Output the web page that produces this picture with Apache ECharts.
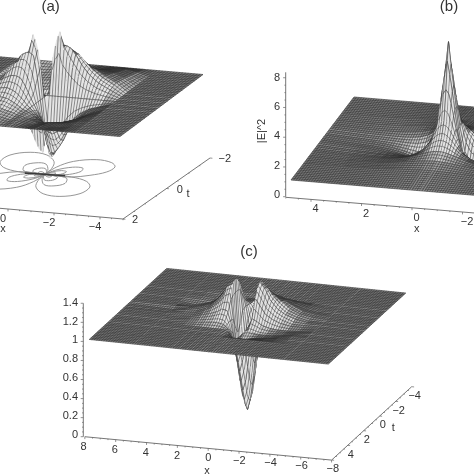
<!DOCTYPE html>
<html><head><meta charset="utf-8"><style>html,body{margin:0;padding:0;background:#fff}#c{width:474px;height:474px}</style>
<script src="https://cdn.jsdelivr.net/npm/echarts@6/dist/echarts.min.js"></script></head>
<body><div id="c"></div>
<script>
// ---------- panel (a) values
const xA=[5,3,2.5,2,1.6,1.3,1,.8,.6,.45,.3,.15,0,-.15,-.3,-.45,-.6,-.8,-1,-1.3,-1.6,-2,-2.5,-3,-5];
const tA=[-2,-1.6,-1.3,-1,-.8,-.6,-.45,-.3,-.15,0,.15,.3,.45,.6,.8,1,1.3,1.6,2];
const flatA=[1,1,1,1,1,1,1,1,1,1,1,1,1,1,1,1,1,1,1,1,1,1,1,1,1];
const zA=[flatA,
[1,1,.96,.94,.94,.95,.96,.96,.97,.98,.99,1,1,1,1.01,1.02,1.03,1.04,1.04,1.05,1.06,1.06,1.04,1,1],
[1,1,.94,.91,.90,.91,.92,.93,.95,.96,.97,.99,1,1.01,1.03,1.04,1.05,1.07,1.08,1.09,1.10,1.09,1.06,1,1],
[1,1,.92,.87,.85,.85,.86,.87,.90,.92,.95,.98,1,1.02,1.05,1.08,1.10,1.13,1.14,1.15,1.15,1.13,1.08,1,1],
[1,1,.91,.85,.81,.79,.78,.80,.83,.87,.91,.96,1,1.04,1.09,1.13,1.17,1.20,1.22,1.21,1.19,1.15,1.09,1,1],
[1,1,.90,.83,.76,.71,.67,.67,.69,.75,.83,.92,1,1.08,1.17,1.25,1.31,1.33,1.33,1.29,1.24,1.17,1.10,1,1],
[1,1,.91,.83,.74,.65,.56,.53,.54,.60,.70,.84,1,1.16,1.30,1.40,1.46,1.47,1.44,1.35,1.26,1.17,1.09,1,1],
[1,1,.93,.86,.77,.67,.54,.45,.38,.38,.47,.69,1,1.31,1.53,1.56,1.56,1.53,1.46,1.33,1.23,1.14,1.07,1,1],
[1,1,.96,.92,.86,.79,.67,.54,.40,.32,.28,.52,1,1.44,1.64,1.75,1.55,1.43,1.33,1.21,1.14,1.08,1.04,1,1],
flatA,
[1,1,1.04,1.08,1.14,1.21,1.33,1.43,1.55,1.75,1.64,1.44,1,.52,.28,.32,.40,.54,.67,.79,.86,.92,.96,1,1],
[1,1,1.07,1.14,1.23,1.33,1.46,1.53,1.56,1.56,1.53,1.31,1,.69,.47,.38,.38,.45,.54,.72,.82,.90,.96,1,1],
[1,1,1.09,1.17,1.26,1.35,1.44,1.47,1.46,1.40,1.30,1.16,1,.84,.70,.60,.54,.53,.58,.72,.80,.88,.95,1,1],
[1,1,1.10,1.17,1.24,1.29,1.33,1.33,1.31,1.25,1.17,1.08,1,.92,.83,.75,.69,.67,.70,.77,.83,.89,.95,1,1],
[1,1,1.09,1.15,1.19,1.21,1.22,1.20,1.17,1.13,1.09,1.04,1,.96,.91,.87,.83,.80,.82,.85,.87,.91,.96,1,1],
[1,1,1.08,1.13,1.15,1.15,1.14,1.13,1.10,1.08,1.05,1.02,1,.98,.95,.92,.90,.87,.88,.89,.90,.93,.97,1,1],
[1,1,1.06,1.09,1.10,1.09,1.08,1.07,1.05,1.04,1.03,1.01,1,.99,.97,.96,.95,.93,.93,.94,.94,.95,.98,1,1],
[1,1,1.04,1.06,1.06,1.05,1.04,1.04,1.03,1.02,1.01,1,1,1,.99,.98,.97,.96,.96,.97,.96,.96,.98,1,1],
flatA];
// floor contours of (a), as [x,t] loops
const contoursA=[
[[0,0],[-.07,-.48],[-.43,-.89],[-1.25,-1.11],[-1.99,-1.01],[-2.34,-.78],[-2.28,-.45],[-1.8,-.17],[-1.18,.02],[-.54,.04],[0,0]],
[[0,0],[-.05,.38],[-.31,.78],[-.94,1.13],[-1.73,1.2],[-2.37,.94],[-2.41,.51],[-1.99,.2],[-1.18,.02],[-.44,.01],[0,0]],
[[0,0],[.05,-.38],[.31,-.78],[.94,-1.13],[1.73,-1.2],[2.37,-.94],[2.41,-.51],[1.99,-.2],[1.18,-.02],[.44,-.01],[0,0]],
[[0,0],[.07,.48],[.43,.89],[1.25,1.11],[1.99,1.01],[2.34,.78],[2.28,.45],[1.8,.17],[1.18,-.02],[.54,-.04],[0,0]],
[[0,0],[-.2,-.3],[-.7,-.55],[-1.15,-.55],[-1.25,-.35],[-.95,-.12],[-.45,0],[0,0]],
[[0,0],[-.1,.25],[-.5,.6],[-.95,.62],[-1.25,.42],[-1.05,.12],[-.5,.02],[0,0]],
[[0,0],[.1,-.25],[.5,-.6],[.95,-.62],[1.25,-.42],[1.05,-.12],[.5,-.02],[0,0]],
[[0,0],[.2,.3],[.7,.55],[1.15,.55],[1.25,.35],[.95,.12],[.45,0],[0,0]],
[[0,0],[-.15,-.18],[-.45,-.3],[-.7,-.26],[-.6,-.08],[-.25,0],[0,0]],
[[0,0],[-.08,.16],[-.3,.34],[-.6,.3],[-.65,.12],[-.3,.01],[0,0]],
[[0,0],[.08,-.16],[.3,-.34],[.6,-.3],[.65,-.12],[.3,-.01],[0,0]],
[[0,0],[.15,.18],[.45,.3],[.7,.26],[.6,.08],[.25,0],[0,0]],
[[0,0],[-.15,-.1],[-.35,-.13],[-.35,-.04],[-.15,0],[0,0]],
[[0,0],[-.1,.08],[-.3,.14],[-.35,.05],[-.15,0],[0,0]],
[[0,0],[.1,-.08],[.3,-.14],[.35,-.05],[.15,0],[0,0]],
[[0,0],[.15,.1],[.35,.13],[.35,.04],[.15,0],[0,0]]];
// dark streak through the centre of the contour map
const streakA=[[.85,.03],[.4,.01],[0,0],[-.4,-.01],[-.85,-.03]];
const xTicksA=[0,-2,-4], tTicksA=[2,0,-2];

// ---------- panel (b) values
const xB=[5,3.5,3,2.6,2.3,2,1.7,1.4,1.1,.8,.6,.4,.25,.12,0,-.12,-.25,-.4,-.6,-.8,-1.1,-1.4,-1.7,-2,-2.3,-2.6,-3,-3.5,-5];
const tB=[-5,-3,-2.2,-1.6,-1.1,-.7,-.4,-.2,0,.2,.4,.7,1.1,1.6,2.2,3,5];
const flatB=[1,1,1,1,1,1,1,1,1,1,1,1,1,1,1,1,1,1,1,1,1,1,1,1,1,1,1,1,1];
const rowB0=[1,.83,.78,.72,.65,.56,.43,.27,.07,.03,.51,2.4,4.6,6.4,8.2,6.4,4.6,2.4,.51,.03,.07,.27,.43,.56,.65,.72,.78,.83,1];
const rowB1=[1,.84,.79,.73,.66,.57,.46,.31,.165,.22,.78,2.45,4.4,5.9,7.0,5.9,4.4,2.45,.78,.22,.165,.31,.46,.57,.66,.73,.79,.84,1];
const rowB2=[1,.85,.8,.74,.68,.61,.53,.43,.39,.64,1.28,2.6,3.9,4.9,5.2,4.9,3.9,2.6,1.28,.64,.39,.43,.53,.61,.68,.74,.8,.85,1];
const rowB3=[1,.85,.815,.77,.74,.7,.67,.67,.78,1.17,1.71,2.4,2.9,3.2,3.3,3.2,2.9,2.4,1.71,1.17,.78,.67,.67,.7,.74,.77,.815,.85,1];
const rowB4=[1,.88,.86,.84,.83,.83,.86,.93,1.1,1.41,1.7,2.02,2.22,2.33,2.37,2.33,2.22,2.02,1.7,1.41,1.1,.93,.86,.83,.83,.84,.86,.88,1];
const rowB5=[1,.92,.91,.92,.93,.96,1.01,1.09,1.22,1.39,1.5,1.61,1.67,1.71,1.71,1.71,1.67,1.61,1.5,1.39,1.22,1.09,1.01,.96,.93,.92,.91,.92,1];
const rowB6=[1,.95,.965,.98,1,1.04,1.08,1.14,1.21,1.28,1.33,1.36,1.38,1.4,1.4,1.4,1.38,1.36,1.33,1.28,1.21,1.14,1.08,1.04,1,.98,.965,.95,1];
const rowB7=[1,.995,1.006,1.025,1.04,1.07,1.09,1.12,1.15,1.18,1.19,1.21,1.21,1.22,1.22,1.22,1.21,1.21,1.19,1.18,1.15,1.12,1.09,1.07,1.04,1.025,1.006,.995,1];
const zB=[flatB,rowB7,rowB6,rowB5,rowB4,rowB3,rowB2,rowB1,rowB0,rowB1,rowB2,rowB3,rowB4,rowB5,rowB6,rowB7,flatB];
const xTicksB=[4,2,0,-2], zTicksB=[0,2,4,6,8];

// ---------- panel (c) values
const xC=[8,5,4,3.2,2.5,2,1.5,1.2,.85,.6,.4,.2,0,-.2,-.4,-.6,-.85,-1.2,-1.5,-2,-2.5,-3.2,-4,-5,-8];
const tC=[-5,-4,-3,-2.5,-2,-1.5,-1,-.6,-.3,0,.3,.6,1,1.5,2,2.5,3,4,5];
const flatC=[1,1,1,1,1,1,1,1,1,1,1,1,1,1,1,1,1,1,1,1,1,1,1,1,1];
const zC=[flatC,flatC,flatC,
[1,1,1,.995,.99,.99,.99,.99,.99,.995,.99,.985,.98,.985,.99,.995,.995,1,1,1,1,1,1,1,1],
[1,1,1,.99,.985,.985,.99,1,1,1,.99,.96,.92,.96,.99,1.01,1.03,1.05,1.05,1.05,1.03,1.01,1,1,1],
[1,1,.995,.985,.985,1,1.02,1.03,1.04,1,.95,.87,.77,.87,.95,1,1.08,1.12,1.12,1.09,1.05,1.02,1,1,1],
[1,1,.98,.98,1.02,1.06,1.11,1.15,1.15,1,.82,.62,.5,.62,.82,1,1.18,1.18,1.16,1.12,1.08,1.03,1.01,1,1],
[1,1,.99,1.03,1.07,1.12,1.2,1.26,1.29,.95,.62,.38,.27,.38,.62,.95,1.29,1.25,1.2,1.14,1.08,1.03,1.01,1,1],
[1,1,1.02,1.05,1.09,1.14,1.24,1.32,1.35,.8,.45,.2,.1,.2,.45,.8,1.35,1.29,1.22,1.13,1.07,1.03,1,1,1],
[1,.99,1.02,1.05,1.09,1.15,1.25,1.33,1.37,.72,.38,.14,.02,.14,.38,.72,1.37,1.3,1.2,1.11,1.06,1.02,1,1,1],
[1,.995,1.02,1.04,1.08,1.14,1.23,1.31,1.34,.8,.45,.2,.1,.2,.45,.8,1.33,1.24,1.15,1.08,1.04,1,1,1,1],
[1,1,1.01,1.03,1.07,1.11,1.18,1.24,1.27,.95,.62,.38,.27,.38,.62,.95,1.24,1.16,1.09,1.04,1.01,.99,.99,1,1],
[1,1,1,1.02,1.05,1.07,1.1,1.13,1.12,1,.82,.62,.5,.62,.82,.98,1.06,1.03,1,.98,.97,.97,.98,1,1],
[1,1,1,1.01,1.02,1.03,1.04,1.04,1.03,1,.95,.87,.77,.87,.93,.96,.97,.96,.95,.95,.96,.97,.99,1,1],
[1,1,1,1,1,1,1,1,1,1,.99,.96,.92,.92,.92,.92,.92,.93,.94,.95,.96,.98,1,1,1],
[1,1,1,1,1,1,1,1,1,1,1,.99,.98,.95,.95,.95,.95,.95,.96,.97,.98,.99,1,1,1],
[1,1,1,1,1,1,1,1,1,1,1,1,1,1,1,1,1,1,1,1,1,1,1,1,1],
flatC,flatC];
const xTicksC=[8,6,4,2,0,-2,-4,-6,-8], tTicksC=[4,2,0,-2,-4], zTicksC=[0,.2,.4,.6,.8,1,1.2,1.4];

// ---------- layout of the three views (screen vectors per data unit)
const viewA={cx:46.5,cy:95.5,ux:[-23,-2],ut:[-20.75,15.5],uz:-83,hx:.125,ht:.1};
const viewB={cx:448.5,cy:149,ux:[-25.2,-2.1],ut:[-6.3,8.3],uz:-14.9,hx:.1,ht:.2};
const viewC={cx:247.5,cy:316.25,ux:[-14.94,-1.54],ut:[-7.74,7.1],uz:-95,hx:.16,ht:.2};
const MESH='#2a2a2a', INK='#333', AXIS='#666';
const FONT='"Liberation Sans",Arial,sans-serif';

function shade(pts,flatArea){
  let s=0;for(let i=0;i<4;i++){const a=pts[i],b=pts[(i+1)%4];s+=a[0]*b[1]-b[0]*a[1];}
  const r=Math.abs(s/2)/flatArea;
  const g=Math.round(r<1?Math.max(70,128-(1-r)*90):Math.min(228,128+(r-1)*75));
  return 'rgb('+g+','+g+','+g+')';
}
function surfaceItems(v,xs,ts,Z){
  const items=[];
  const unit=Math.abs(v.ux[0]*v.ut[1]-v.ux[1]*v.ut[0]);
  const P=(api,x,t,z)=>api.coord([v.cx+x*v.ux[0]+t*v.ut[0], v.cy+x*v.ux[1]+t*v.ut[1]+(z-1)*v.uz]);
  for(let i=0;i<ts.length-1;i++)for(let j=0;j<xs.length-1;j++){
    items.push(api=>{
      const x0=xs[j],x1=xs[j+1],t0=ts[i],t1=ts[i+1];
      const a=Z[i][j],b=Z[i][j+1],c=Z[i+1][j+1],d=Z[i+1][j];
      const pts=[P(api,x0,t0,a),P(api,x1,t0,b),P(api,x1,t1,c),P(api,x0,t1,d)];
      const f=shade(pts,unit*(x0-x1)*(t1-t0));
      const ch=[{type:'polygon',silent:true,shape:{points:pts},style:{fill:f,stroke:f,lineWidth:.3}}];
      const line=(p,q)=>ch.push({type:'line',silent:true,shape:{x1:p[0],y1:p[1],x2:q[0],y2:q[1]},style:{stroke:MESH,lineWidth:.5}});
      for(let k=Math.ceil(x1/v.hx-1e-6);k*v.hx<=x0+1e-6;k++){
        const X=k*v.hx,g=(X-x0)/(x1-x0);
        line(P(api,X,t0,a+(b-a)*g),P(api,X,t1,d+(c-d)*g));
      }
      for(let k=Math.ceil(t0/v.ht-1e-6);k*v.ht<=t1+1e-6;k++){
        const T=k*v.ht,g=(T-t0)/(t1-t0);
        line(P(api,x0,T,a+(d-a)*g),P(api,x1,T,b+(c-b)*g));
      }
      return {type:'group',children:ch};
    });
  }
  return items;
}
function seg(p,q,w){return api=>{const a=api.coord(p),b=api.coord(q);
  return {type:'line',silent:true,shape:{x1:a[0],y1:a[1],x2:b[0],y2:b[1]},style:{stroke:AXIS,lineWidth:w||.9}};};}
function label(s,p,size,rot,align){return api=>{const a=api.coord(p);
  return {type:'text',silent:true,x:a[0],y:a[1],rotation:rot||0,style:{text:s,fill:INK,font:size+'px '+FONT,align:align||'center',verticalAlign:'middle'}};};}
function asSeries(items,z){return {type:'custom',coordinateSystem:'cartesian2d',clip:false,silent:true,animation:false,progressive:0,z:z,
  data:items.map((_,i)=>[i,i]),renderItem:(p,api)=>items[p.dataIndex](api)};}

function axisItems(){
  const it=[];
  const tick=(o,u,v,lo,hi,step,major,len)=>{
    for(let k=Math.ceil(lo/step);k*step<=hi+1e-6;k++){const s=k*step;
      const p=[o[0]+s*u[0],o[1]+s*u[1]];const isM=Math.abs(s/major-Math.round(s/major))<1e-6;
      it.push(seg(p,[p[0]+v[0]*(isM?len:len*.5),p[1]+v[1]*(isM?len:len*.5)],.7));}
  };
  const a0=[8,209],aux=[-23,-2],aut=[21.75,-15.25];
  it.push(seg([a0[0]+(-5)*aux[0],a0[1]+(-5)*aux[1]],[a0[0]+1*aux[0],a0[1]+1*aux[1]]));
  tick(a0,aux,[0,1],-5,1,.5,2,2.4);
  const a2=[123,219];
  it.push(seg(a2,[a2[0]+4*aut[0],a2[1]+4*aut[1]]));
  tick(a2,aut,[1,.1],0,4,.5,2,2.4);
  xTicksA.forEach(v=>it.push(label(String(v).replace('-','\u2212'),[a0[0]+v*aux[0]-5,a0[1]+v*aux[1]+9.5],11)));
  tTicksA.forEach(v=>{const s=(2-v)/1;it.push(label(String(v).replace('-','\u2212'),[a2[0]+s*aut[0]+12+(2-v)*.7,a2[1]+s*aut[1]+1],11));});
  it.push(label('x',[3,229],11)); it.push(label('t',[188,194],11));
  it.push(label('(a)',[50.7,7],15));
  const b0=[412,207.8],bux=[-25.25,-2.1];
  it.push(seg([b0[0]+5*bux[0],b0[1]+5*bux[1]],[b0[0]-3*bux[0],b0[1]-3*bux[1]]));
  tick(b0,bux,[0,1],-3,5,.5,2,2.4);
  xTicksB.forEach(v=>it.push(label(String(v).replace('-','\u2212'),[b0[0]+v*bux[0]+4.5,b0[1]+v*bux[1]+10],11)));
  const bz=[285.7,196.7];
  it.push(seg(bz,[bz[0],72.3]));
  tick(bz,[0,-14.87],[-1,0],0,8.3,.5,2,2.6);
  zTicksB.forEach(v=>it.push(label(String(v),[277,195-v*14.65],11)));
  it.push(label('x',[416.7,229],11));
  it.push(label('|E|^2',[262,131],11,Math.PI/2));
  it.push(label('(b)',[449,7],15));
  const c0=[208.2,448.4],cux=[-15.42,-1.46],cut=[-8,7.33],c5=[331.7,460];
  it.push(seg([c0[0]+8*cux[0],c0[1]+8*cux[1]],[c0[0]-8*cux[0],c0[1]-8*cux[1]]));
  tick(c0,cux,[0,1],-8,8,.5,2,2.4);
  xTicksC.forEach(v=>it.push(label(String(v).replace('-','\u2212'),[c0[0]+v*cux[0]-v*.15,c0[1]+v*cux[1]+10-Math.max(0,-v)*.2],11)));
  it.push(seg(c5,[c5[0]-10*cut[0],c5[1]-10*cut[1]]));
  tick(c5,[-cut[0],-cut[1]],[1,.1],0,10,.5,2,2.4);
  tTicksC.forEach(v=>{const s=5-v;it.push(label(String(v).replace('-','\u2212'),[c5[0]-s*cut[0]+11,c5[1]-s*cut[1]+2],11));});
  const cz=[83.3,436.7];
  it.push(seg(cz,[83.3,303.3]));
  tick(cz,[0,-95.3],[-1,0],0,1.4,.05,.2,2.6);
  zTicksC.forEach(v=>it.push(label(String(v),[78,435-v*94.6],11,0,'right')));
  it.push(label('x',[207,470.7],11)); it.push(label('t',[393.3,427.7],11));
  it.push(label('(c)',[249,252.3],15));
  return it;
}
function contourItems(v,loops,z,color,w){
  return loops.map(L=>api=>({type:'polyline',silent:true,
    shape:{points:L.map(p=>api.coord([v.cx-1.5+p[0]*v.ux[0]+p[1]*v.ut[0], v.cy+p[0]*v.ux[1]+p[1]*v.ut[1]+(z-1)*v.uz])),smooth:.35},
    style:{stroke:color,lineWidth:w,fill:'none'}}));
}
const chart=echarts.init(document.getElementById('c'),null,{renderer:'canvas'});
chart.setOption({animation:false,backgroundColor:'#fff',
  grid:{left:0,right:0,top:0,bottom:0},
  xAxis:{type:'value',min:0,max:474,show:false},
  yAxis:{type:'value',min:0,max:474,inverse:true,show:false},
  series:[
    asSeries(axisItems(),1),
    asSeries(contourItems(viewA,contoursA,.05,'#8a8a8a',.9).concat(contourItems(viewA,[streakA],.05,'#3a3a3a',1.6)),2),
    asSeries(surfaceItems(viewA,xA,tA,zA),3),
    asSeries(surfaceItems(viewB,xB,tB,zB),4),
    asSeries(surfaceItems(viewC,xC,tC,zC),5)
  ]});
</script></body></html>
